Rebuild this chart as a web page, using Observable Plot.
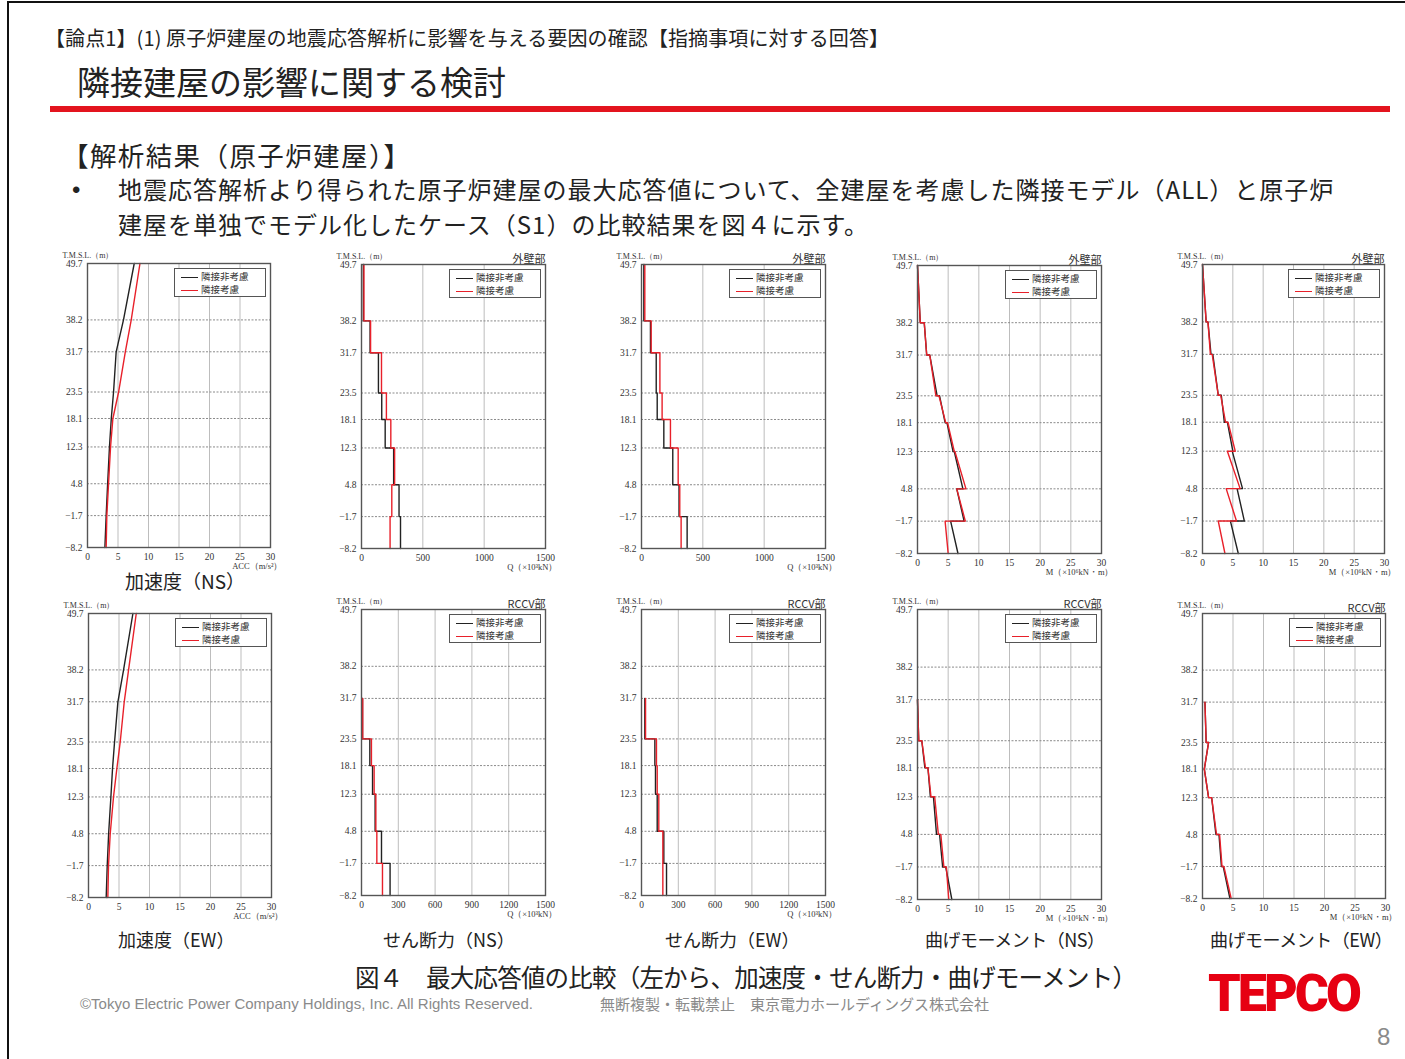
<!DOCTYPE html>
<html><head><meta charset="utf-8">
<script src="https://cdn.jsdelivr.net/npm/d3@7"></script>
<script src="https://cdn.jsdelivr.net/npm/@observablehq/plot@0.6"></script>
<style>
html,body{margin:0;padding:0;background:#fff;}
body{width:1405px;height:1059px;position:relative;overflow:hidden;font-family:"Noto Sans CJK JP","Noto Sans",sans-serif;color:#222;}
.t{position:absolute;white-space:nowrap;line-height:1;}
.chart{position:absolute;}
.legend{position:absolute;border:1px solid #555;background:#fff;font-family:"Noto Sans CJK JP",sans-serif;font-size:9.5px;color:#333;box-sizing:border-box;}
.legend .row{position:absolute;left:6px;height:11px;line-height:11px;}
.legend .sw{display:inline-block;width:17px;height:1.6px;vertical-align:middle;margin-right:3px;}
</style></head>
<body>
<div style="position:absolute;left:7px;top:1px;width:1400px;height:1060px;border-top:2px solid #111;border-left:2px solid #111;"></div>
<div class="t" style="left:45px;top:28px;font-size:20px;letter-spacing:0.1px;">【論点1】(1) 原子炉建屋の地震応答解析に影響を与える要因の確認【指摘事項に対する回答】</div>
<div class="t" style="left:77px;top:65px;font-size:33px;">隣接建屋の影響に関する検討</div>
<div style="position:absolute;left:50px;top:106px;width:1340px;height:6px;background:#e3141e;"></div>
<div class="t" style="left:62px;top:142px;font-size:26.5px;letter-spacing:1.4px;">【解析結果（原子炉建屋）】</div>
<div class="t" style="left:72px;top:178px;font-size:24px;font-family:'Liberation Sans',sans-serif;">•</div>
<div class="t" style="left:118px;top:171px;font-size:24px;line-height:35px;letter-spacing:1px;">地震応答解析より得られた原子炉建屋の最大応答値について、全建屋を考慮した隣接モデル（ALL）と原子炉<br>建屋を単独でモデル化したケース（S1）の比較結果を図４に示す。</div>
<div id="charts"></div>
<div class="t" style="left:125px;top:571px;font-size:19px;">加速度（NS）</div>
<div class="t" style="left:118px;top:930px;font-size:18px;">加速度（EW）</div>
<div class="t" style="left:383px;top:930px;font-size:18px;">せん断力（NS）</div>
<div class="t" style="left:665px;top:930px;font-size:18px;">せん断力（EW）</div>
<div class="t" style="left:925px;top:930px;font-size:18px;letter-spacing:-0.5px;">曲げモーメント（NS）</div>
<div class="t" style="left:1210px;top:930px;font-size:18px;letter-spacing:-0.5px;">曲げモーメント（EW）</div>
<div class="t" style="left:355px;top:965px;font-size:24.5px;letter-spacing:-0.8px;">図４　最大応答値の比較（左から、加速度・せん断力・曲げモーメント）</div>
<div class="t" style="left:80px;top:996px;font-size:15px;color:#8a8a8a;font-family:'Liberation Sans',Arial,sans-serif;">©Tokyo Electric Power Company Holdings, Inc. All Rights Reserved.</div>
<div class="t" style="left:600px;top:996px;font-size:15px;color:#8a8a8a;">無断複製・転載禁止　東京電力ホールディングス株式会社</div>
<div class="t" style="left:1208px;top:968px;font-size:52px;color:#e60012;font-family:Roboto,'Liberation Sans',sans-serif;font-weight:900;letter-spacing:-3px;">TEPCO</div>
<div class="t" style="left:1377px;top:1025px;font-size:24px;color:#8a8a8a;font-family:'Liberation Sans',sans-serif;">8</div>
<script>
// ---- data ----
const levels = [49.7, 38.2, 31.7, 23.5, 18.1, 12.3, 4.8, -1.7, -8.2];
const seriesNames = ["隣接非考慮", "隣接考慮"];
const accTicks = [0, 5, 10, 15, 20, 25, 30];
const qTicksTop = [0, 500, 1000, 1500];
const qTicksBottom = [0, 300, 600, 900, 1200, 1500];
const mTicks = [0, 5, 10, 15, 20, 25, 30];

// acceleration at each level (m/s2)
const accNS_noAdj = [7.66, 5.9, 4.7, 4.27, 3.9, 3.6, 3.3, 3.06, 2.85];
const accNS_adj   = [8.6, 7.17, 6.2, 5.1, 4.16, 3.78, 3.45, 3.17, 3.06];
const accEW_noAdj = [7.28, 5.75, 4.82, 4.27, 3.94, 3.67, 3.3, 3.07, 2.9];
const accEW_adj   = [7.83, 6.57, 5.86, 5.2, 4.65, 4.1, 3.56, 3.28, 3.17];

// shear per story (x10^3 kN), story i spans levels[i]..levels[i+1]
const qNS_outer_noAdj = [15, 70, 138, 165, 193, 262, 306, 318];
const qNS_outer_adj   = [20, 74, 163, 203, 239, 270, 247, 233];
const qEW_outer_noAdj = [19, 73, 120, 128, 182, 255, 306, 372];
const qEW_outer_adj   = [27, 79, 150, 168, 236, 299, 312, 323];
const qNS_rccv_noAdj  = [null, null, 8, 68, 90, 111, 163, 233];
const qNS_rccv_adj    = [null, null, 10, 81, 103, 117, 125, 171];
const qEW_rccv_noAdj  = [null, null, 27, 109, 114, 128, 182, 204];
const qEW_rccv_adj    = [null, null, 33, 122, 128, 141, 174, 174];

// bending moment per story, top and bottom (x10^6 kN·m)
const mNS_outer_noAdj_top = [0, 1.1, 2.0, 3.6, 4.8, 6.0, 6.4, 5.4];
const mNS_outer_noAdj_bot = [0.45, 1.5, 3.2, 4.5, 5.8, 7.4, 7.6, 6.6];
const mNS_outer_adj_top   = [0, 1.1, 2.0, 3.5, 4.9, 6.1, 6.4, 4.5];
const mNS_outer_adj_bot   = [0.45, 1.5, 3.0, 4.6, 6.0, 7.9, 7.8, 5.0];
const mEW_outer_noAdj_top = [0, 0.9, 1.7, 3.1, 4.1, 4.9, 5.7, 4.6];
const mEW_outer_noAdj_bot = [0.6, 1.4, 2.6, 3.6, 5.0, 6.6, 6.9, 5.9];
const mEW_outer_adj_top   = [0, 0.9, 1.6, 3.0, 4.2, 4.1, 3.9, 2.6];
const mEW_outer_adj_bot   = [0.6, 1.3, 2.6, 3.8, 5.4, 6.2, 5.6, 3.7];
const mNS_rccv_noAdj_top  = [null, null, 0, 0.7, 1.7, 2.6, 3.6, 4.6];
const mNS_rccv_noAdj_bot  = [null, null, 0.2, 1.2, 2.1, 3.1, 4.1, 5.6];
const mNS_rccv_adj_top    = [null, null, 0, 0.7, 1.7, 2.8, 3.8, 4.7];
const mNS_rccv_adj_bot    = [null, null, 0.2, 1.3, 2.2, 3.4, 4.3, 5.1];
const mEW_rccv_noAdj_top  = [null, null, 0.4, 1.0, 0.3, 1.5, 2.7, 3.4];
const mEW_rccv_noAdj_bot  = [null, null, 0.6, 0.3, 1.0, 2.2, 3.1, 4.5];
const mEW_rccv_adj_top    = [null, null, 0.4, 1.0, 0.3, 1.5, 2.8, 3.5];
const mEW_rccv_adj_bot    = [null, null, 0.6, 0.3, 1.0, 2.3, 3.2, 4.7];

// ---- builders ----
const accPts = vals => levels.map((y, i) => ({x: vals[i], y}));
const stepPts = vals => vals.flatMap((v, i) => v == null ? [] : [{x: v, y: levels[i]}, {x: v, y: levels[i + 1]}]);
const momPts = (top, bot) => top.flatMap((v, i) => v == null ? [] : [{x: v, y: levels[i]}, {x: bot[i], y: levels[i + 1]}]);

const fmtLevel = d => (d < 0 ? "−" + Math.abs(d).toFixed(1) : d.toFixed(1));
const fmtX = d => String(d);
const BLACK = "#222", RED = "#e8202a";

const ML = 35, MR = 20, MT = 20, MB = 32;
const container = document.getElementById("charts");

function addChart({frame: [L, T, R, B], domain, ticks, xLabel, part, black, red}) {
  const W = R - L, H = B - T;
  const svg = Plot.plot({
    width: W + ML + MR, height: H + MT + MB,
    marginLeft: ML, marginRight: MR, marginTop: MT, marginBottom: MB,
    style: {fontFamily: "'Liberation Serif','DejaVu Serif',serif", fontSize: "9.5px", color: "#333", background: "transparent", overflow: "visible"},
    x: {domain, label: null},
    y: {domain: [-8.2, 49.7], label: null},
    marks: [
      Plot.gridX(ticks, {stroke: "#bdbdbd", strokeOpacity: 1, strokeWidth: 1}),
      Plot.gridY(levels, {stroke: "#8a8a8a", strokeOpacity: 1, strokeWidth: 1, strokeDasharray: "2,1.5"}),
      Plot.axisX(ticks, {tickSize: 0, tickPadding: 6, tickFormat: fmtX, label: null}),
      Plot.axisY(levels, {tickSize: 0, tickPadding: 5, tickFormat: fmtLevel, label: null}),
      Plot.line(black, {x: "x", y: "y", stroke: BLACK, strokeWidth: 1.4}),
      Plot.line(red, {x: "x", y: "y", stroke: RED, strokeWidth: 1.4}),
      Plot.frame({stroke: "#555", strokeWidth: 1.4}),
      Plot.text(["T.M.S.L.（m）"], {text: d => d, frameAnchor: "top-left", dx: -25, dy: -11, textAnchor: "start", fontSize: 8}),
      Plot.text([xLabel], {text: d => d, frameAnchor: "bottom-right", dx: 12, dy: 21, textAnchor: "end", fontSize: 8.5}),
      ...(part ? [Plot.text([part], {text: d => d, frameAnchor: "top-right", dy: -9, textAnchor: "end", fontSize: 11, fontFamily: "'Noto Sans CJK JP',sans-serif"})] : [])
    ]
  });
  const div = document.createElement("div");
  div.className = "chart";
  div.style.left = (L - ML) + "px";
  div.style.top = (T - MT) + "px";
  div.appendChild(svg);
  container.appendChild(div);
  // legend box
  const lg = document.createElement("div");
  lg.className = "legend";
  const lw = 92, lh = 29;
  lg.style.left = (R - 4 - lw) + "px";
  lg.style.top = (T + 5) + "px";
  lg.style.width = lw + "px";
  lg.style.height = lh + "px";
  lg.innerHTML = `<div class="row" style="top:2px"><span class="sw" style="background:${BLACK}"></span>${seriesNames[0]}</div>` +
                 `<div class="row" style="top:15px"><span class="sw" style="background:${RED}"></span>${seriesNames[1]}</div>`;
  document.body.appendChild(lg);
}

const charts = [
  {frame: [87, 263, 270, 547], domain: [0, 30], ticks: accTicks, xLabel: "ACC（m/s²）", part: null, black: accPts(accNS_noAdj), red: accPts(accNS_adj)},
  {frame: [361, 264, 545, 548], domain: [0, 1500], ticks: qTicksTop, xLabel: "Q（×10³kN）", part: "外壁部", black: stepPts(qNS_outer_noAdj), red: stepPts(qNS_outer_adj)},
  {frame: [641, 264, 825, 548], domain: [0, 1500], ticks: qTicksTop, xLabel: "Q（×10³kN）", part: "外壁部", black: stepPts(qEW_outer_noAdj), red: stepPts(qEW_outer_adj)},
  {frame: [917, 265, 1101, 553], domain: [0, 30], ticks: mTicks, xLabel: "M（×10⁶kN・m）", part: "外壁部", black: momPts(mNS_outer_noAdj_top, mNS_outer_noAdj_bot), red: momPts(mNS_outer_adj_top, mNS_outer_adj_bot)},
  {frame: [1202, 264, 1384, 553], domain: [0, 30], ticks: mTicks, xLabel: "M（×10⁶kN・m）", part: "外壁部", black: momPts(mEW_outer_noAdj_top, mEW_outer_noAdj_bot), red: momPts(mEW_outer_adj_top, mEW_outer_adj_bot)},
  {frame: [88, 613, 271, 897], domain: [0, 30], ticks: accTicks, xLabel: "ACC（m/s²）", part: null, black: accPts(accEW_noAdj), red: accPts(accEW_adj)},
  {frame: [361, 609, 545, 895], domain: [0, 1500], ticks: qTicksBottom, xLabel: "Q（×10³kN）", part: "RCCV部", black: stepPts(qNS_rccv_noAdj), red: stepPts(qNS_rccv_adj)},
  {frame: [641, 609, 825, 895], domain: [0, 1500], ticks: qTicksBottom, xLabel: "Q（×10³kN）", part: "RCCV部", black: stepPts(qEW_rccv_noAdj), red: stepPts(qEW_rccv_adj)},
  {frame: [917, 609, 1101, 899], domain: [0, 30], ticks: mTicks, xLabel: "M（×10⁶kN・m）", part: "RCCV部", black: momPts(mNS_rccv_noAdj_top, mNS_rccv_noAdj_bot), red: momPts(mNS_rccv_adj_top, mNS_rccv_adj_bot)},
  {frame: [1202, 613, 1385, 898], domain: [0, 30], ticks: mTicks, xLabel: "M（×10⁶kN・m）", part: "RCCV部", black: momPts(mEW_rccv_noAdj_top, mEW_rccv_noAdj_bot), red: momPts(mEW_rccv_adj_top, mEW_rccv_adj_bot)}
];
charts.forEach(addChart);
</script>
</body></html>
